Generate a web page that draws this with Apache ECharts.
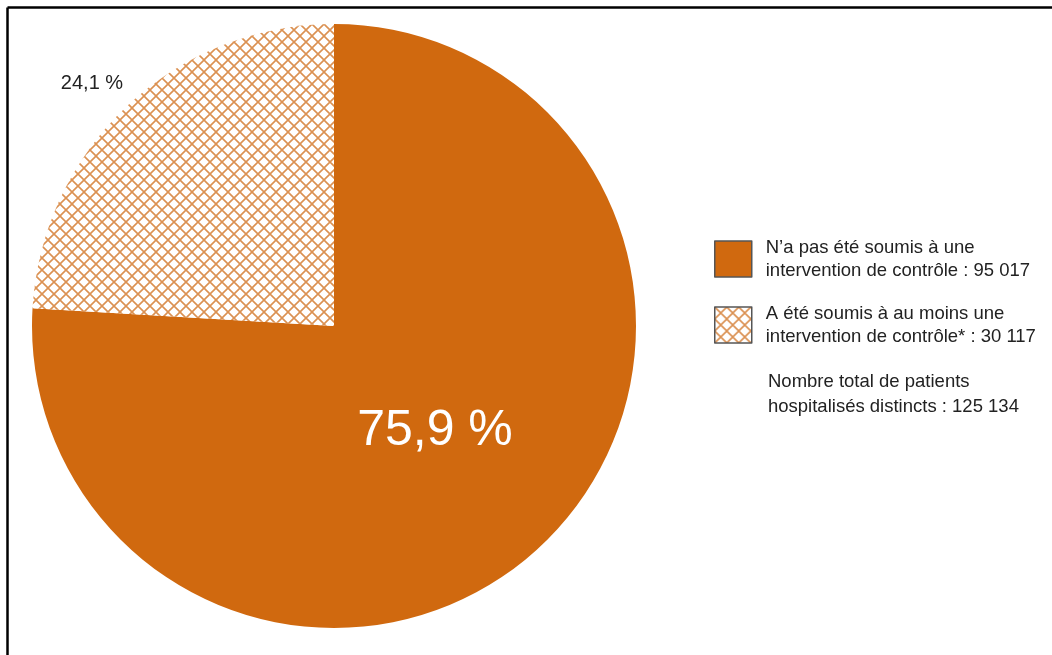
<!DOCTYPE html>
<html><head><meta charset="utf-8">
<script src="https://cdn.jsdelivr.net/npm/echarts@6/dist/echarts.min.js"></script>
<style>html,body{margin:0;padding:0;background:#fff}#c{width:1052px;height:655px}</style>
</head><body><div id="c"></div>
<script>
const categories = [
  "N\u2019a pas été soumis à une\nintervention de contrôle : 95 017",
  "A été soumis à au moins une\nintervention de contrôle* : 30 117"
];
const values = [95017, 30117];
const totalText = "Nombre total de patients\nhospitalisés distincts : 125 134";

const FONT = "'Liberation Sans', Arial, sans-serif";
const ORANGE = '#D0690F';

function hatch() {
  const s = 12, c = document.createElement('canvas');
  c.width = s; c.height = s;
  const g = c.getContext('2d');
  g.fillStyle = '#ffffff'; g.fillRect(0, 0, s, s);
  g.strokeStyle = '#DB9152'; g.lineWidth = 1.6;
  g.beginPath();
  g.moveTo(-1, -1); g.lineTo(s + 1, s + 1);
  g.moveTo(s + 1, -1); g.lineTo(-1, s + 1);
  g.stroke();
  return c;
}
const total = values.reduce((a, b) => a + b, 0);
const pct = v => (v / total * 100).toFixed(1).replace('.', ',') + ' %';

const chart = echarts.init(document.getElementById('c'));
chart.setOption({
  animation: false,
  backgroundColor: '#ffffff',
  legend: {
    orient: 'vertical', left: 714, top: 236, padding: 0,
    itemWidth: 37, itemHeight: 36, itemGap: 20,
    icon: 'rect',
    selectedMode: false,
    itemStyle: { borderColor: '#555', borderWidth: 1.5 },
    textStyle: { fontFamily: FONT, fontSize: 18.5, lineHeight: 23, color: '#222', padding: [0, 0, 0, 9] },
    data: categories
  },
  graphic: [
    { type: 'line', shape: { x1: 7.5, y1: 7.5, x2: 7.5, y2: 655 }, style: { stroke: '#000', lineWidth: 2.5 } },
    { type: 'line', shape: { x1: 7.5, y1: 7.5, x2: 1052, y2: 7.5 }, style: { stroke: '#000', lineWidth: 2.5 } },
    { type: 'text', left: 768, top: 369, style: { text: totalText, fontFamily: FONT, fontSize: 18.5, lineHeight: 25, fill: '#222' } }
  ],
  series: [{
    type: 'pie',
    center: [334, 326], radius: [0, 302],
    startAngle: 90, clockwise: true,
    avoidLabelOverlap: false,
    labelLine: { show: false },
    emphasis: { disabled: true },
    labelLayout: function (p) {
      if (p.dataIndex === 1) return { x: 92, y: 83, align: 'center', verticalAlign: 'middle' };
      return { x: 435, y: 431, align: 'center', verticalAlign: 'middle' };
    },
    data: [
      { name: categories[0], value: values[0], itemStyle: { color: ORANGE },
        label: { position: 'inside', formatter: p => pct(p.value), fontFamily: FONT, fontSize: 50, color: '#fff' } },
      { name: categories[1], value: values[1], itemStyle: { color: { image: hatch(), repeat: 'repeat' } },
        label: { position: 'outside', formatter: p => pct(p.value), fontFamily: FONT, fontSize: 20, color: '#222' } }
    ]
  }]
});
</script></body></html>
